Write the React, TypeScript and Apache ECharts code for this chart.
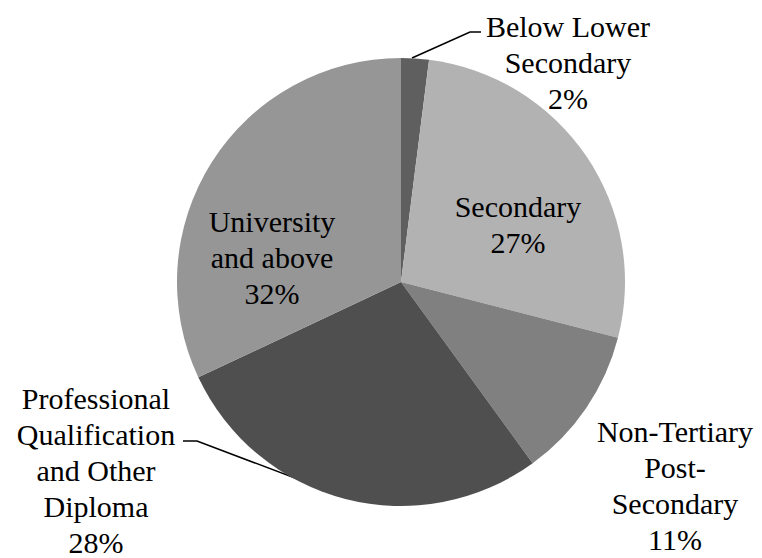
import React, { useEffect, useRef } from "react";
import * as echarts from "echarts";

// Highest level of education attained, share of total (%)
const categories = [
  "Below Lower\nSecondary",
  "Secondary",
  "Non-Tertiary\nPost-\nSecondary",
  "Professional\nQualification\nand Other\nDiploma",
  "University\nand above",
];
const shares = [2, 27, 11, 28, 32];
const sliceColors = ["#5f5f5f", "#b2b2b2", "#808080", "#4f4f4f", "#969696"];

// Where each label block is centred, and the leader line (if any) drawn to it
const labelSpots: { x: number; y: number; line?: number[][] }[] = [
  { x: 568, y: 62, line: [[412, 58], [470, 32], [481, 32]] },
  { x: 518, y: 224 },
  { x: 675, y: 485 },
  { x: 96, y: 470, line: [[345, 497], [197, 441], [183, 441]] },
  { x: 272, y: 257 },
];

export default function App() {
  const ref = useRef<HTMLDivElement>(null);

  useEffect(() => {
    if (!ref.current) return;
    const chart = echarts.init(ref.current, undefined, { renderer: "svg" });
    chart.setOption({
      animation: false,
      series: [
        {
          type: "pie",
          center: [401, 282],
          radius: 224,
          startAngle: 90,
          clockwise: true,
          avoidLabelOverlap: false,
          itemStyle: { borderWidth: 0 },
          label: {
            show: true,
            color: "#000000",
            fontFamily: "Liberation Serif",
            fontSize: 30,
            lineHeight: 36,
            formatter: (p: any) => `${p.name}\n${Math.round(p.percent)}%`,
          },
          labelLine: { show: false },
          labelLayout: (params: any) => {
            const spot = labelSpots[params.dataIndex];
            const out: any = {
              x: spot.x,
              y: spot.y,
              align: "center",
              verticalAlign: "middle",
            };
            if (spot.line) out.labelLinePoints = spot.line;
            return out;
          },
          data: categories.map((name, i) => ({
            name,
            value: shares[i],
            itemStyle: { color: sliceColors[i] },
            labelLine: labelSpots[i].line
              ? { show: true, lineStyle: { color: "#000000", width: 1.5 } }
              : { show: false },
          })),
        },
      ],
    });
    return () => chart.dispose();
  }, []);

  return (
    <div
      ref={ref}
      style={{ position: "absolute", left: 0, top: 0, width: 762, height: 558 }}
    />
  );
}
